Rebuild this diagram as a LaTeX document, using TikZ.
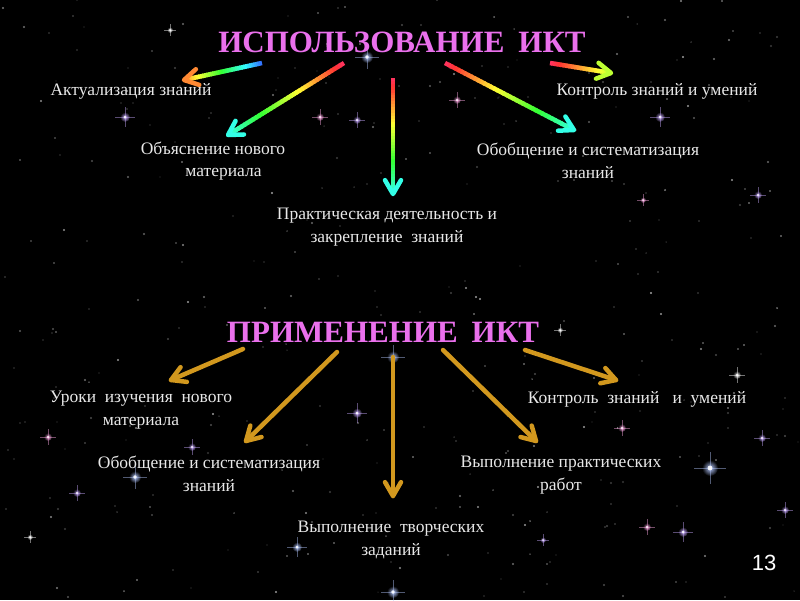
\documentclass[tikz,border=0pt]{standalone}
\usepackage{fontspec}
\setmainfont{Liberation Serif}
\newfontfamily\numfont{Liberation Sans}
\usetikzlibrary{calc}
\definecolor{titlec}{RGB}{234,112,236}
\definecolor{goldc}{RGB}{210,152,30}
\definecolor{labc}{RGB}{232,232,232}
\tikzset{
  lab/.style={text=labc, font=\fontsize{17.5}{22.5}\selectfont, align=center, inner sep=0pt},
  ttl/.style={text=titlec, font=\bfseries\fontsize{31}{36}\selectfont, inner sep=0pt, anchor=base},
  goldline/.style={draw=goldc, line width=4.5pt, line cap=round},
}
% rainbow shaft: #1 tail, #2 tip, #3 hue at tail, #4 hue at tip
\newcommand\rbline[4]{%
  \foreach \i in {0,...,39}{%
    \pgfmathsetmacro\ta{\i/40}%
    \pgfmathsetmacro\tb{min(1,(\i+1.5)/40)}%
    \pgfmathsetmacro\hh{mod(#3+(#4-#3)*(\i+0.5)/40+2,1)}%
    \definecolor{segc}{hsb}{\hh,0.8,1}%
    \draw[segc, line width=4.5pt] ($(#1)!\ta!(#2)$) -- ($(#1)!\tb!(#2)$);
  }%
  \pgfmathsetmacro\hh{mod(#4+2,1)}%
  \definecolor{headc}{hsb}{\hh,0.8,1}%
  \vhead{#2}{#1}{headc}%
}
% open V head: #1 tip, #2 tail, #3 colour
\newcommand\vhead[3]{%
  \draw[#3, line width=4.5pt, line cap=round, line join=round]
    ($(#1)!16pt!30:(#2)$) -- (#1) -- ($(#1)!16pt!-30:(#2)$);}
% sparkle star: x, y, radius, colour
\newcommand\sparkle[4]{%
  \shade[inner color=#4, outer color=black] (#1,#2) circle (#3);
  \draw[#4, line width=0.4pt, opacity=0.45] (#1-2*#3,#2) -- (#1+2*#3,#2) (#1,#2-2*#3) -- (#1,#2+2*#3);
  \fill[white, opacity=0.9] (#1,#2) circle (0.3*#3);}
\begin{document}
\begin{tikzpicture}[x=1pt, y=-1pt]
\fill[black] (0,0) rectangle (800,600);
\useasboundingbox (0,0) rectangle (800,600);
% faint star field
\pgfmathsetseed{4242}
\foreach \k in {1,...,360}{%
  \pgfmathsetmacro\sx{random(0,800)}%
  \pgfmathsetmacro\sy{random(0,600)}%
  \pgfmathsetmacro\so{0.2+0.45*rnd}%
  \pgfmathsetmacro\sr{0.5+0.7*rnd}%
  \fill[white, opacity=\so] (\sx,\sy) circle (\sr);
}
\definecolor{lav}{RGB}{200,170,255}
\definecolor{pnk}{RGB}{255,170,230}
\definecolor{blu}{RGB}{180,200,255}
\sparkle{367}{57}{6}{blu}
\sparkle{393}{357}{6}{blu}
\sparkle{710}{468}{8}{blu}
\sparkle{135}{477}{6}{blu}
\sparkle{48}{437}{4}{pnk}
\sparkle{737}{375}{4}{white}
\sparkle{125}{117}{5}{lav}
\sparkle{357}{120}{4}{lav}
\sparkle{320}{117}{4}{pnk}
\sparkle{457}{100}{4}{pnk}
\sparkle{660}{117}{5}{lav}
\sparkle{758}{195}{4}{lav}
\sparkle{643}{200}{3}{pnk}
\sparkle{622}{428}{4}{pnk}
\sparkle{762}{438}{4}{lav}
\sparkle{647}{527}{4}{pnk}
\sparkle{683}{532}{5}{lav}
\sparkle{543}{540}{3}{lav}
\sparkle{785}{510}{4}{lav}
\sparkle{77}{493}{4}{lav}
\sparkle{192}{447}{4}{lav}
\sparkle{357}{413}{5}{lav}
\sparkle{297}{547}{5}{blu}
\sparkle{30}{537}{3}{white}
\sparkle{393}{592}{6}{blu}
\sparkle{170}{30}{3}{white}
\sparkle{560}{330}{3}{white}

% titles
\node[ttl] (use) at (402,52) {ИСПОЛЬЗОВАНИЕ\hspace{0.45em}ИКТ};
\node[ttl] (app) at (383,342) {ПРИМЕНЕНИЕ\hspace{0.45em}ИКТ};

% top labels
\node[lab] (u1) at (131,91) {Актуализация знаний};
\node[lab] (u2) at (213,161) {Объяснение нового\\\hspace{1.2em}материала};
\node[lab] (u3) at (387,227) {Практическая деятельность и\\закрепление\ \ знаний};
\node[lab] (u4) at (657,91) {Контроль знаний и умений};
\node[lab] (u5) at (588,161) {Обобщение и систематизация\\знаний};

% bottom labels
\node[lab] (a1) at (141,410) {Уроки\ \ изучения\ \ нового\\материала\hspace{3em}};
\node[lab] (a2) at (209,474) {Обобщение и систематизация\\знаний};
\node[lab] (a3) at (391,540) {Выполнение\ \ творческих\\заданий};
\node[lab] (a4) at (637,399) {Контроль\ \ знаний\ \ \ и\ \ умений};
\node[lab] (a5) at (561,475) {Выполнение практических\\работ};

\node[text=white, font=\numfont\fontsize{22}{24}\selectfont, inner sep=0pt] (num) at (764,563) {13};

% top rainbow arrows
\coordinate (ut1) at (262,63);  \coordinate (uh1) at (184,80);
\coordinate (ut2) at (344,63);  \coordinate (uh2) at (228,135);
\coordinate (ut3) at (393,78);  \coordinate (uh3) at (393,194);
\coordinate (ut4) at (445,63);  \coordinate (uh4) at (574,130);
\coordinate (ut5) at (550,63);  \coordinate (uh5) at (611,73);
\rbline{ut1}{uh1}{0.62}{0.07}
\rbline{ut2}{uh2}{-0.04}{0.48}
\rbline{ut3}{uh3}{-0.04}{0.48}
\rbline{ut4}{uh4}{-0.04}{0.48}
\rbline{ut5}{uh5}{-0.04}{0.22}

% bottom gold arrows
\coordinate (at1) at (243,349); \coordinate (ah1) at (171,380);
\coordinate (at2) at (337,352); \coordinate (ah2) at (246,441);
\coordinate (at3) at (393,357); \coordinate (ah3) at (393,496);
\coordinate (at4) at (443,350); \coordinate (ah4) at (536,441);
\coordinate (at5) at (525,350); \coordinate (ah5) at (616,380);
\foreach \n in {1,...,5}{%
  \draw[goldline] (at\n) -- (ah\n);
  \vhead{ah\n}{at\n}{goldc}
}
\end{tikzpicture}
\end{document}
